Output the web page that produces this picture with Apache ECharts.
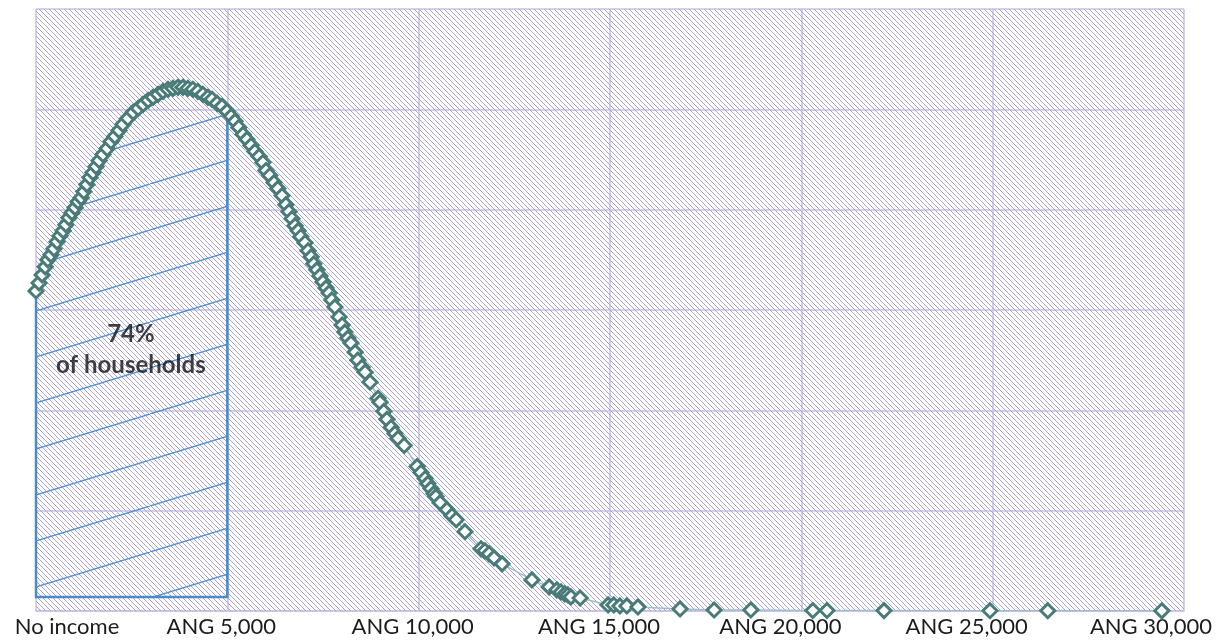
<!DOCTYPE html>
<html><head><meta charset="utf-8">
<script src="https://cdn.jsdelivr.net/npm/echarts@6/dist/echarts.min.js"></script>
<style>html,body{margin:0;padding:0;background:#fff}#c{width:1227px;height:641px}</style>
</head><body><div id="c"></div>
<script>
// Household income (ANG) and relative share of households (density, arbitrary units)
const incomes = [0,80,160,240,310,390,470,550,630,710,
  780,860,940,1020,1100,1180,1250,1330,1410,1490,
  1570,1650,1750,1860,1960,2060,2170,2270,2400,2540,
  2670,2800,2930,3060,3190,3320,3450,3580,3710,3840,
  3970,4100,4230,4360,4490,4600,4730,4860,4990,5100,
  5200,5300,5410,5510,5620,5720,5830,5930,6010,6110,
  6220,6320,6430,6530,6610,6690,6770,6850,6920,7030,
  7110,7190,7260,7340,7420,7500,7580,7660,7730,7810,
  7920,8000,8070,8150,8230,8340,8410,8520,8600,8730,
  8940,8990,9090,9170,9280,9380,9460,9620,9960,10060,
  10170,10240,10320,10400,10450,10560,10740,10870,10980,11210,
  11630,11730,11840,11970,12180,12960,13410,13610,13720,13820,
  13900,13980,14220,14950,15100,15260,15440,15730,16830,17720,
  18680,20300,20670,22160,24930,26440,29420];
const shares = [3.19,3.27,3.35,3.43,3.50,3.55,3.61,3.68,3.74,3.79,
  3.85,3.92,3.97,4.02,4.08,4.12,4.18,4.25,4.32,4.37,
  4.43,4.49,4.55,4.61,4.68,4.73,4.79,4.85,4.91,4.97,
  5.01,5.05,5.09,5.12,5.15,5.18,5.20,5.21,5.22,5.22,
  5.21,5.20,5.18,5.15,5.12,5.10,5.06,5.03,4.98,4.93,
  4.88,4.82,4.75,4.70,4.64,4.58,4.53,4.47,4.39,4.34,
  4.27,4.21,4.14,4.05,3.98,3.91,3.84,3.79,3.73,3.67,
  3.59,3.53,3.46,3.40,3.34,3.28,3.22,3.17,3.10,3.03,
  2.93,2.85,2.78,2.72,2.67,2.58,2.50,2.43,2.38,2.28,
  2.12,2.08,1.99,1.91,1.83,1.77,1.72,1.65,1.44,1.38,
  1.32,1.27,1.22,1.17,1.14,1.08,1.01,0.95,0.91,0.79,
  0.62,0.60,0.57,0.53,0.47,0.31,0.24,0.21,0.19,0.17,
  0.16,0.14,0.13,0.06,0.06,0.05,0.05,0.04,0.02,0.01,
  0.01,0.005,0.005,0.004,0.003,0.003,0.002];
const tickValues = [0,5000,10000,15000,20000,25000,30000];
const tickLabels = ['No income','ANG 5,000','ANG 10,000','ANG 15,000','ANG 20,000','ANG 25,000','ANG 30,000'];
const shadedFrom = 0, shadedTo = 5000, shadedBase = 0.14;
const shadedText = ['74%','of households'];
const shadedTextAt = [2480, 2.6];
const xMin = 0, xMax = 30000, yMin = 0, yMax = 6;

// ---------- styling helpers ----------
function bgPattern(){
  const s = 5, c = document.createElement('canvas');
  c.width = s; c.height = s;
  const g = c.getContext('2d');
  g.strokeStyle = '#a9a2dc'; g.lineWidth = 1;
  g.beginPath();
  g.moveTo(-1,-1); g.lineTo(s+1,s+1);
  g.moveTo(s-1,-1); g.lineTo(s+1,1);
  g.moveTo(-1,s-1); g.lineTo(1,s+1);
  g.stroke();
  return {image: c, repeat: 'repeat'};
}
function bluePattern(){
  const w = 150, h = 46, c = document.createElement('canvas');
  c.width = w; c.height = h;
  const g = c.getContext('2d');
  g.strokeStyle = '#4f8fd0'; g.lineWidth = 1.3;
  g.beginPath();
  g.moveTo(-w, 2*h); g.lineTo(2*w, -h);
  g.stroke();
  return {image: c, repeat: 'repeat'};
}
const labelNudge = [31,-6,-6,-11,-21,-26,-33];
const rich = {};
labelNudge.forEach((n,i)=>{
  rich['l'+i] = {fontFamily:'Lato', fontSize:22, color:'#1c1c1c',
    padding: n>0 ? [0,0,0,2*n] : [0,-2*n,0,0]};
});

const curve = incomes.map((x,i)=>[x, shares[i]]);
const gridColor = '#c9c1e2';

const chart = echarts.init(document.getElementById('c'), null, {renderer:'canvas'});
chart.setOption({
  animation: false,
  backgroundColor: '#fff',
  grid: {left: 36, right: 43, top: 9, bottom: 30},
  xAxis: {
    type: 'value', min: xMin, max: xMax, interval: 5000,
    axisLine: {show: true, lineStyle: {color: gridColor, width: 1.5}},
    axisTick: {show: false},
    splitLine: {show: true, lineStyle: {color: gridColor, width: 1.5}},
    axisLabel: {
      margin: 5,
      formatter: v => { const i = tickValues.indexOf(v); return i < 0 ? '' : '{l'+i+'|'+tickLabels[i]+'}'; },
      rich: rich
    }
  },
  yAxis: {
    type: 'value', min: yMin, max: yMax, interval: 1,
    axisLine: {show: false}, axisTick: {show: false}, axisLabel: {show: false},
    splitLine: {show: true, lineStyle: {color: gridColor, width: 1.5}}
  },
  series: [
    {
      type: 'custom', z: 1, silent: true,
      data: [0],
      renderItem: (params, api) => {
        const tl = api.coord([xMin, yMax]), br = api.coord([xMax, yMin]);
        const pts = [];
        let lastY = shares[0];
        curve.forEach(p => { if (p[0] >= shadedFrom && p[0] <= shadedTo) { pts.push(api.coord(p)); lastY = p[1]; } });
        pts.push(api.coord([shadedTo, lastY]));
        pts.push(api.coord([shadedTo, shadedBase]));
        pts.push(api.coord([shadedFrom, shadedBase]));
        return {
          type: 'group',
          children: [
            {type: 'rect', shape: {x: tl[0], y: tl[1], width: br[0]-tl[0], height: br[1]-tl[1]},
             style: {fill: bgPattern()}},
            {type: 'polygon', shape: {points: pts},
             style: {fill: bluePattern(), stroke: '#4a8bc8', lineWidth: 2.5}}
          ]
        };
      }
    },
    {
      type: 'line', z: 3,
      data: curve,
      symbol: 'diamond', symbolSize: 14, showAllSymbol: true,
      itemStyle: {color: '#ffffff', borderColor: '#497c78', borderWidth: 3},
      lineStyle: {color: '#9fbfcc', width: 1.5},
      emphasis: {disabled: true}
    },
    {
      type: 'scatter', z: 4, silent: true,
      data: [shadedTextAt],
      symbolSize: 0,
      label: {
        show: true, position: 'inside',
        formatter: shadedText.join('\n'),
        fontFamily: 'Lato', fontWeight: 'bold', fontSize: 24, lineHeight: 31, color: '#111111'
      }
    }
  ]
});
</script>
</body></html>
